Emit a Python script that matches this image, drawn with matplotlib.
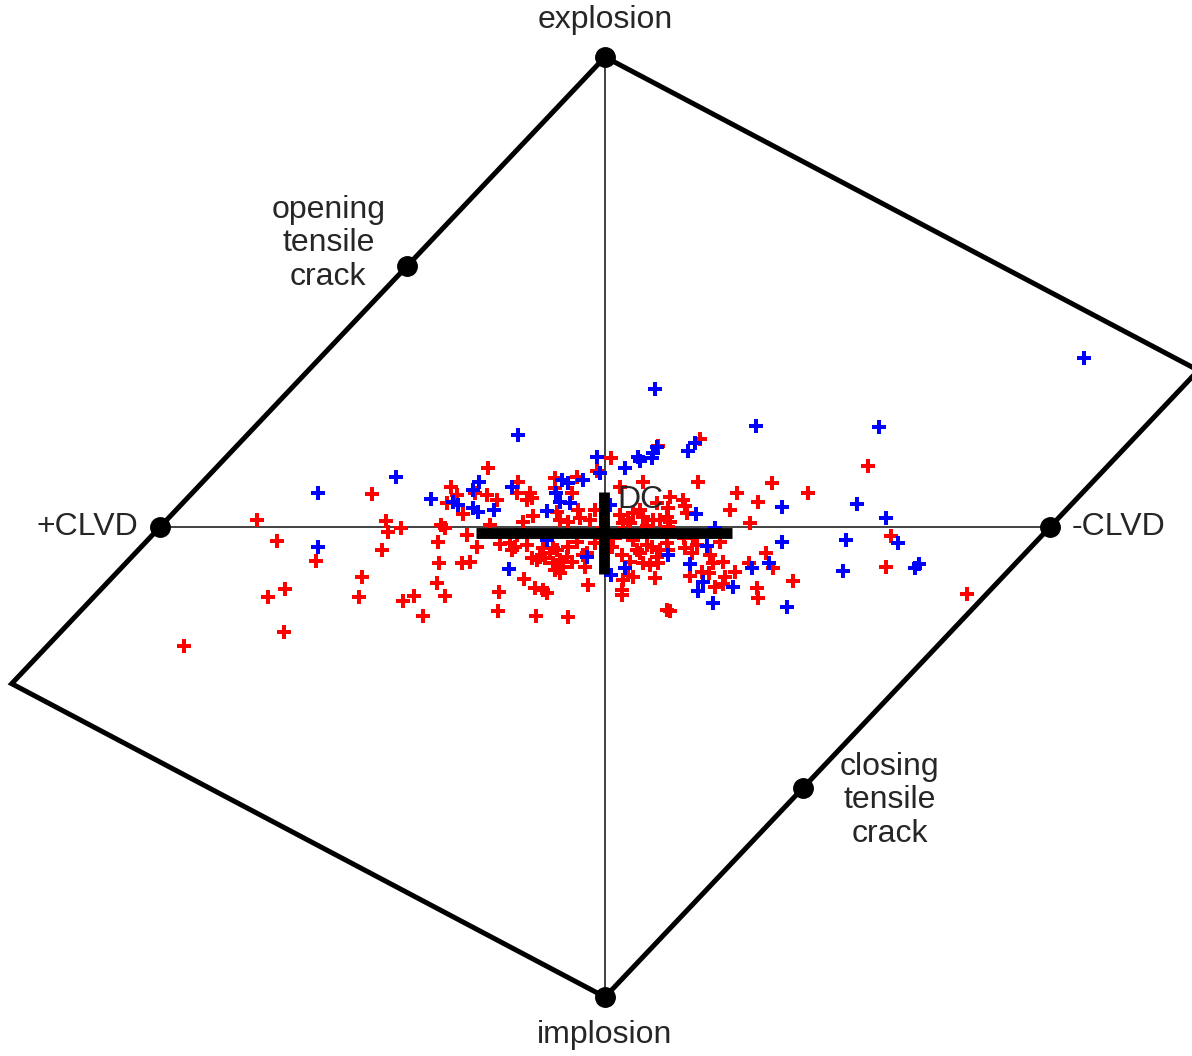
import matplotlib
matplotlib.use("Agg")
import matplotlib.pyplot as plt
import numpy as np

# ---------------- data (Hudson source-type coordinates u, v) ----------------
blue_u = [1.076, 0.112, -0.196, 0.339, 0.616, 0.202, 0.187, 0.117, 0.108, 0.106,
          0.074, 0.079, 0.045, -0.018, -0.011, -0.097, -0.083, -0.049, -0.391, -0.283,
          -0.297, -0.342, -0.330, -0.297, -0.285, -0.249, -0.209, -0.110, -0.101, -0.079,
          -0.130, 0.011, 0.204, 0.398, 0.566, 0.631, -0.645, -0.470, -0.645, 0.247,
          0.398, 0.542, 0.658, 0.229, -0.130, 0.142, 0.191, 0.369, 0.330, 0.045,
          -0.216, -0.040, 0.013, 0.220, 0.209, 0.288, 0.243, 0.409, 0.535, 0.697,
          0.706]
blue_v = [0.360, 0.294, 0.196, 0.215, 0.213, 0.179, 0.162, 0.170, 0.157, 0.147,
          0.149, 0.140, 0.126, 0.149, 0.115, 0.100, 0.094, 0.100, 0.060, 0.096,
          0.079, 0.053, 0.047, 0.040, 0.032, 0.036, 0.085, 0.072, 0.053, 0.051,
          0.034, 0.047, 0.028, 0.043, 0.049, 0.019, 0.072, 0.106, -0.043, -0.002,
          -0.032, -0.028, -0.034, -0.040, -0.028, -0.060, -0.079, -0.077, -0.087, -0.087,
          -0.089, -0.064, -0.102, -0.117, -0.136, -0.128, -0.162, -0.170, -0.094, -0.087,
          -0.079]

red_u = [-0.524, -0.782, -0.492, -0.488, -0.458, -0.737, -0.649, -0.501, -0.546, -0.719,
         -0.757, -0.553, -0.454, -0.429, -0.721, -0.946, -0.409, -0.263, -0.346, -0.333,
         -0.355, -0.319, -0.292, -0.265, -0.243, -0.196, -0.198, -0.169, -0.164, -0.175,
         -0.162, -0.184, -0.258, -0.369, -0.360, -0.310, -0.375, -0.288, -0.236, -0.213,
         -0.202, -0.209, -0.175, -0.373, -0.321, -0.303, -0.164, -0.153, -0.378, -0.360,
         -0.238, -0.182, -0.157, -0.240, -0.155, -0.198, 0.013, -0.018, -0.112, -0.063,
         -0.074, 0.034, 0.085, -0.108, -0.101, -0.083, -0.061, -0.056, -0.034, -0.022,
         0.034, 0.052, 0.040, 0.079, 0.085, 0.108, 0.119, -0.112, -0.139, -0.124,
         -0.135, -0.108, -0.117, -0.112, -0.101, -0.094, -0.101, -0.085, -0.083, -0.074,
         -0.063, -0.049, -0.040, -0.045, -0.038, -0.139, -0.130, -0.083, 0.016, 0.038,
         0.056, 0.052, 0.040, 0.038, 0.038, 0.063, 0.079, 0.085, 0.101, 0.112,
         0.106, 0.117, -0.146, -0.117, -0.018, -0.022, 0.018, 0.034, 0.063, 0.072,
         0.213, 0.209, 0.375, 0.297, 0.344, 0.281, 0.146, 0.175, 0.180, 0.184,
         0.142, 0.139, 0.146, 0.142, 0.326, 0.124, 0.117, 0.063, 0.056, 0.094,
         0.139, 0.124, 0.180, 0.196, 0.207, 0.236, 0.258, 0.243, 0.265, 0.292,
         0.191, 0.234, 0.270, 0.265, 0.247, 0.324, 0.362, 0.378, 0.342, 0.344,
         0.139, 0.146, 0.178, 0.198, 0.094, 0.142, 0.119, 0.218, 0.591, 0.456,
         0.643, 0.631, 0.422, 0.813]
red_v = [0.070, 0.015, 0.013, -0.011, -0.002, -0.030, -0.072, -0.049, -0.106, -0.132,
         -0.149, -0.149, -0.157, -0.147, -0.223, -0.253, -0.189, 0.126, 0.085, 0.068,
         0.051, 0.028, 0.072, 0.068, 0.057, 0.096, 0.072, 0.072, 0.062, 0.057,
         0.023, 0.011, 0.004, 0.004, -0.002, -0.017, -0.032, -0.043, -0.036, -0.034,
         -0.043, -0.049, -0.038, -0.077, -0.077, -0.074, -0.066, -0.070, -0.119, -0.147,
         -0.138, -0.111, -0.130, -0.179, -0.189, -0.017, 0.147, 0.119, 0.104, 0.106,
         0.072, 0.085, 0.096, 0.032, 0.015, 0.011, 0.036, 0.019, 0.015, 0.036,
         0.026, 0.015, 0.009, 0.036, 0.021, 0.015, 0.172, 0.083, -0.045, -0.055,
         -0.066, -0.049, -0.077, -0.091, -0.070, -0.085, -0.098, -0.064, -0.043, -0.074,
         -0.032, -0.060, -0.055, -0.085, -0.123, -0.134, -0.140, -0.191, -0.043, -0.060,
         -0.074, -0.102, -0.113, -0.134, -0.145, -0.106, -0.055, -0.077, -0.081, -0.109,
         -0.043, -0.064, -0.064, -0.045, -0.013, -0.034, -0.023, -0.013, -0.028, -0.049,
         0.187, 0.096, 0.094, 0.072, 0.053, 0.036, 0.064, 0.057, 0.045, 0.030,
         0.040, 0.021, 0.011, 0.000, 0.009, 0.015, 0.051, 0.030, 0.009, 0.002,
         -0.034, -0.049, -0.045, -0.055, -0.038, -0.060, -0.032, -0.077, -0.074, -0.096,
         -0.104, -0.098, -0.106, -0.121, -0.128, -0.077, -0.055, -0.087, -0.130, -0.151,
         -0.177, -0.179, -0.023, -0.021, -0.038, -0.049, -0.077, -0.096, 0.130, 0.072,
         -0.019, -0.085, -0.115, -0.143]

# mean source type and its spread (thick cross at DC)
mean_u = [-0.002]
mean_v = [-0.013]
std_u = [0.288]
std_v = [0.088]

# reference source types
ref_names = ["explosion", "implosion", "+CLVD", "-CLVD",
             "opening\ntensile\ncrack", "closing\ntensile\ncrack"]
ref_u = [0.0, 0.0, -1.0, 1.0, -4 / 9, 4 / 9]
ref_v = [1.0, -1.0, 0.0, 0.0, 5 / 9, -5 / 9]

# ---------------- figure ----------------
plt.rcParams['font.family'] = ['Liberation Sans', 'DejaVu Sans']
fig = plt.figure(figsize=(11.92, 10.56), dpi=100)
ax = fig.add_axes([0, 0, 1, 1])
ax.set_xlim(-1.3596, 1.3191)
ax.set_ylim(-1.1255, 1.1213)
ax.axis('off')

# diamond outline
outline_u = [0, 4 / 3, 0, -4 / 3, 0]
outline_v = [1, 1 / 3, -1, -1 / 3, 1]
ax.plot(outline_u, outline_v, color='black', lw=3.6, solid_joinstyle='miter',
        zorder=2, clip_on=False)
# inner axes
ax.plot([-1, 1], [0, 0], color='#333333', lw=1.3, zorder=1)
ax.plot([0, 0], [-1, 1], color='#333333', lw=1.3, zorder=1)

# data points
ax.plot(red_u, red_v, linestyle='none', marker='P', markersize=10,
        markeredgewidth=0, color='#ff0000', zorder=3)
ax.plot(blue_u, blue_v, linestyle='none', marker='P', markersize=10,
        markeredgewidth=0, color='#0000ff', zorder=3)

# mean with spread
ax.errorbar(mean_u, mean_v, xerr=std_u, yerr=std_v, fmt='none',
            ecolor='black', elinewidth=7.8, capsize=0, zorder=5)

# reference dots
ax.plot(ref_u, ref_v, linestyle='none', marker='o', markersize=14,
        color='black', zorder=6, clip_on=False)

txt = dict(fontsize=23, color='#262626')
ax.text(0, 1.079, "explosion", ha='center', va='center', **txt)
ax.text(0, -1.081, "implosion", ha='center', va='center', **txt)
ax.text(-1.049, 0, "+CLVD", ha='right', va='center', **txt)
ax.text(1.049, 0, "-CLVD", ha='left', va='center', **txt)
ax.text(0.027, 0.057, "DC", ha='left', va='center', zorder=4, **txt)
ax.text(-0.622, 0.604, ref_names[4], ha='center', va='center',
        linespacing=1.15, **txt)
ax.text(0.640, -0.581, ref_names[5], ha='center', va='center',
        linespacing=1.15, **txt)

fig.savefig("out.png", dpi=100)
